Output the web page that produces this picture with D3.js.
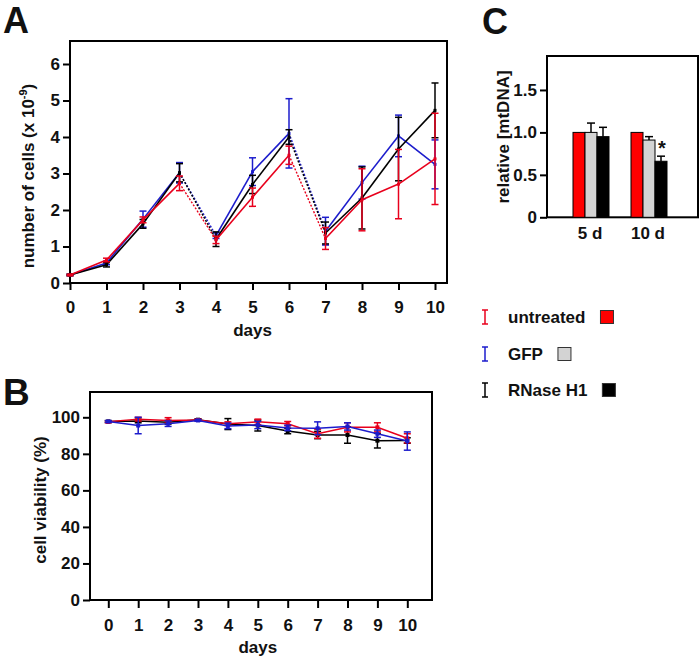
<!DOCTYPE html>
<html><head><meta charset="utf-8">
<script src="https://cdn.jsdelivr.net/npm/d3@7"></script>
<style>body{margin:0;background:#fff}text{font-family:"Liberation Sans",Arial,sans-serif}</style>
</head><body>
<svg id="c" width="700" height="660"></svg>
<script>
// ---------- data ----------
const days = [0,1,2,3,4,5,6,7,8,9,10];
const seriesNames = ["untreated","GFP","RNase H1"];
const seriesColors = ["#e8001c","#1c1ccc","#000000"];
// Panel A: number of cells (x10^-9)
const cellsUntreated = [0.22,0.63,1.73,2.73,1.18,2.35,3.5,1.22,2.28,2.71,3.4];
const cellsUntreatedErr = [0.02,0.05,0.08,0.2,0.1,0.25,0.25,0.3,0.85,0.95,1.25];
const cellsGFP = [0.22,0.55,1.75,3.02,1.3,3.05,4.1,1.42,2.75,4.03,3.25];
const cellsGFPErr = [0.02,0.05,0.22,0.28,0.08,0.38,0.95,0.38,0.45,0.57,0.67];
const cellsRNase = [0.22,0.5,1.62,3.02,1.2,2.7,4.0,1.37,2.33,3.67,4.73];
const cellsRNaseErr = [0.02,0.06,0.12,0.25,0.2,0.25,0.2,0.3,0.85,0.87,0.75];
const dottedSegments = [[3,4],[6,7]];
const cellTicks = [0,1,2,3,4,5,6];
// Panel B: cell viability (%)
const viabUntreated = [97.5,99.0,98.3,98.5,96.5,97.5,96.5,91,94.5,94.5,88.5];
const viabUntreatedErr = [0.5,1,1.5,0.5,1,1.5,1.2,2.5,2.5,2.5,2.5];
const viabGFP = [97.7,95.5,96.5,98.3,95.3,95.8,94.2,94,95.0,91,87];
const viabGFPErr = [0.5,4.5,1.5,0.5,1.5,2,1.5,3.5,2,2,5];
const viabRNase = [97.7,98.0,97.3,98.7,96.3,95.5,92.5,90.3,90.3,87.2,87.3];
const viabRNaseErr = [0.5,1,1,0.5,3,3,1.5,2,4.5,4,1.5];
const viabTicks = [0,20,40,60,80,100];
// Panel C: relative mtDNA
const groups = ["5 d","10 d"];
const mtUntreated = [1.0,1.0];
const mtGFP = [1.0,0.91];
const mtGFPErr = [0.11,0.04];
const mtRNase = [0.95,0.66];
const mtRNaseErr = [0.11,0.06];
const mtTicks = [0,0.5,1.0,1.5];
const mtTickLabels = ["0","0.5","1.0","1.5"];
const barColors = ["#ff0000","#d3d3d3","#000000"];

const svg = d3.select("#c");
const F = '"Liberation Sans",Arial,sans-serif';

function styleAxis(g, size){
  g.selectAll("path").attr("stroke","#000").attr("stroke-width",2);
  g.selectAll("line").attr("stroke","#000").attr("stroke-width",2);
  g.selectAll("text").attr("font-family",F).attr("font-weight","bold").attr("font-size",size).attr("fill","#111");
}

// ---------- Panel A ----------
(function(){
  const L=70,R=447,T=41,B=283;
  const x = d3.scaleLinear().domain([0,10]).range([70,435]);
  const y = d3.scaleLinear().domain([0,6]).range([B,64]);
  const gA = svg.append("g");
  const ya = gA.append("g").attr("transform",`translate(${L},0)`).call(d3.axisLeft(y).tickValues(cellTicks).tickSize(7).tickPadding(3).tickFormat(d3.format("d")));
  ya.select(".domain").remove();
  styleAxis(ya,17);
  const xa = gA.append("g").attr("transform",`translate(0,${B})`).call(d3.axisBottom(x).tickValues(days).tickSize(7).tickPadding(11).tickFormat(d3.format("d")));
  xa.select(".domain").remove();
  styleAxis(xa,17);
  gA.append("rect").attr("x",L).attr("y",T).attr("width",R-L).attr("height",B-T).attr("fill","none").attr("stroke","#000").attr("stroke-width",2);

  const sets = [
    {v:cellsGFP,e:cellsGFPErr,c:seriesColors[1]},
    {v:cellsRNase,e:cellsRNaseErr,c:seriesColors[2]},
    {v:cellsUntreated,e:cellsUntreatedErr,c:seriesColors[0]}
  ];
  const isDotted = (i)=>dottedSegments.some(s=>s[0]===i);
  sets.forEach(s=>{
    const g = gA.append("g");
    for(let i=0;i<days.length-1;i++){
      g.append("line").attr("x1",x(days[i])).attr("y1",y(s.v[i])).attr("x2",x(days[i+1])).attr("y2",y(s.v[i+1]))
        .attr("stroke",s.c).attr("stroke-width",isDotted(i)?1.4:1.6).attr("stroke-dasharray",isDotted(i)?"2,1.6":null);
    }
    days.forEach((d,i)=>{
      const cx=x(d), y1=y(s.v[i]+s.e[i]), y2=y(s.v[i]-s.e[i]);
      g.append("line").attr("x1",cx).attr("x2",cx).attr("y1",y1).attr("y2",y2).attr("stroke",s.c).attr("stroke-width",1.5);
      [y1,y2].forEach(yy=>g.append("line").attr("x1",cx-3.5).attr("x2",cx+3.5).attr("y1",yy).attr("y2",yy).attr("stroke",s.c).attr("stroke-width",1.5));
      g.append("rect").attr("x",cx-1.5).attr("y",y(s.v[i])-1.5).attr("width",3).attr("height",3).attr("fill",s.c);
    });
  });
  const yl = gA.append("text").attr("transform",`translate(34,${(T+B)/2+14}) rotate(-90)`).attr("text-anchor","middle")
    .attr("font-size",17).attr("font-weight","bold").attr("fill","#111");
  yl.append("tspan").text("number of cells (x 10");
  yl.append("tspan").attr("font-size",11).attr("dy",-7).text("-9");
  yl.append("tspan").attr("dy",7).text(")");
  gA.append("text").attr("x",x(5)).attr("y",336).attr("text-anchor","middle").attr("font-size",17).attr("font-weight","bold").attr("fill","#111").text("days");
  svg.append("text").attr("x",3).attr("y",33).attr("font-size",36).attr("font-weight","bold").attr("fill","#111").text("A");
})();

// ---------- Panel B ----------
(function(){
  const L=90,R=432,T=392,B=600;
  const x = d3.scaleLinear().domain([0,10]).range([108.3,407.3]);
  const y = d3.scaleLinear().domain([0,100]).range([B,417.3]);
  const gB = svg.append("g");
  const ya = gB.append("g").attr("transform",`translate(${L},0)`).call(d3.axisLeft(y).tickValues(viabTicks).tickSize(7).tickPadding(3));
  ya.select(".domain").remove();
  styleAxis(ya,17);
  const xa = gB.append("g").attr("transform",`translate(0,${B+1})`).call(d3.axisBottom(x).tickValues(days).tickSize(7).tickPadding(11).tickFormat(d3.format("d")));
  xa.select(".domain").remove();
  styleAxis(xa,17);
  gB.append("rect").attr("x",L).attr("y",T).attr("width",R-L).attr("height",B-T).attr("fill","none").attr("stroke","#000").attr("stroke-width",2);
  const sets = [
    {v:viabRNase,e:viabRNaseErr,c:seriesColors[2]},
    {v:viabUntreated,e:viabUntreatedErr,c:seriesColors[0]},
    {v:viabGFP,e:viabGFPErr,c:seriesColors[1]}
  ];
  const line = d3.line().x((d,i)=>x(days[i])).y(d=>y(d));
  sets.forEach(s=>{
    const g = gB.append("g");
    g.append("path").attr("d",line(s.v)).attr("fill","none").attr("stroke",s.c).attr("stroke-width",1.5);
    days.forEach((d,i)=>{
      const cx=x(d), y1=y(s.v[i]+s.e[i]), y2=y(s.v[i]-s.e[i]);
      g.append("line").attr("x1",cx).attr("x2",cx).attr("y1",y1).attr("y2",y2).attr("stroke",s.c).attr("stroke-width",1.5);
      [y1,y2].forEach(yy=>g.append("line").attr("x1",cx-3.5).attr("x2",cx+3.5).attr("y1",yy).attr("y2",yy).attr("stroke",s.c).attr("stroke-width",1.5));
      g.append("rect").attr("x",cx-2).attr("y",y(s.v[i])-2).attr("width",4).attr("height",4).attr("fill",s.c);
    });
  });
  gB.append("text").attr("transform",`translate(46,${500}) rotate(-90)`).attr("text-anchor","middle")
    .attr("font-size",17).attr("font-weight","bold").attr("fill","#111").text("cell viability (%)");
  gB.append("text").attr("x",x(5)).attr("y",653).attr("text-anchor","middle").attr("font-size",17).attr("font-weight","bold").attr("fill","#111").text("days");
  svg.append("text").attr("x",3).attr("y",405).attr("font-size",37).attr("font-weight","bold").attr("fill","#111").text("B");
})();

// ---------- Panel C ----------
(function(){
  const L=547,R=698,T=56,B=217.3;
  const y = d3.scaleLinear().domain([0,1.9]).range([B,T]);
  const xg = d3.scalePoint().domain(groups).range([591,649]);
  const xs = d3.scaleBand().domain(seriesNames).range([-18,18]);
  const gC = svg.append("g");
  const ya = gC.append("g").attr("transform",`translate(${L},0)`).call(d3.axisLeft(y).tickValues(mtTicks).tickSize(7).tickPadding(3).tickFormat((d,i)=>mtTickLabels[i]));
  ya.select(".domain").remove();
  styleAxis(ya,17);
  gC.append("rect").attr("x",L).attr("y",T).attr("width",R-L).attr("height",B-T).attr("fill","none").attr("stroke","#000").attr("stroke-width",2);
  const vals = [mtUntreated,mtGFP,mtRNase];
  const errs = [null,mtGFPErr,mtRNaseErr];
  seriesNames.forEach((s,si)=>{
    groups.forEach((g,gi)=>{
      const bx = xg(g)+xs(s), v = vals[si][gi];
      if(errs[si]){
        const cx = bx+xs.bandwidth()/2, yt=y(v+errs[si][gi]);
        gC.append("line").attr("x1",cx).attr("x2",cx).attr("y1",y(v)).attr("y2",yt).attr("stroke","#000").attr("stroke-width",1.5);
        gC.append("line").attr("x1",cx-4).attr("x2",cx+4).attr("y1",yt).attr("y2",yt).attr("stroke","#000").attr("stroke-width",1.5);
      }
      gC.append("rect").attr("x",bx).attr("y",y(v)).attr("width",xs.bandwidth()).attr("height",B-y(v))
        .attr("fill",barColors[si]).attr("stroke","#000").attr("stroke-width",1);
    });
  });
  gC.append("text").attr("x",xg("10 d")+xs("RNase H1")+xs.bandwidth()/2+1).attr("y",y(mtRNase[1]+mtRNaseErr[1])-1)
    .attr("text-anchor","middle").attr("font-size",20).attr("font-weight","bold").attr("fill","#111").text("*");
  groups.forEach(g=>gC.append("text").attr("x",xg(g)-1).attr("y",239).attr("text-anchor","middle").attr("font-size",17).attr("font-weight","bold").attr("fill","#111").text(g));
  gC.append("text").attr("transform",`translate(509,${137}) rotate(-90)`).attr("text-anchor","middle")
    .attr("font-size",17).attr("font-weight","bold").attr("fill","#111").text("relative [mtDNA]");
  svg.append("text").attr("x",482).attr("y",34).attr("font-size",36).attr("font-weight","bold").attr("fill","#111").text("C");

  // legend
  const ly = [317,354,390];
  seriesNames.forEach((s,i)=>{
    const g = svg.append("g");
    const c = seriesColors[i];
    g.append("line").attr("x1",485).attr("x2",485).attr("y1",ly[i]-7).attr("y2",ly[i]+7).attr("stroke",c).attr("stroke-width",1.5);
    [ly[i]-7,ly[i]+7].forEach(yy=>g.append("line").attr("x1",482).attr("x2",488).attr("y1",yy).attr("y2",yy).attr("stroke",c).attr("stroke-width",1.5));
    const t = g.append("text").attr("x",508).attr("y",ly[i]+6).attr("font-size",17).attr("font-weight","bold").attr("fill","#111").text(s);
    const w = t.node().getComputedTextLength();
    g.append("rect").attr("x",508+w+15).attr("y",ly[i]-6.5).attr("width",13).attr("height",13).attr("fill",barColors[i]).attr("stroke","#333").attr("stroke-width",1);
  });
})();
</script>
</body></html>
